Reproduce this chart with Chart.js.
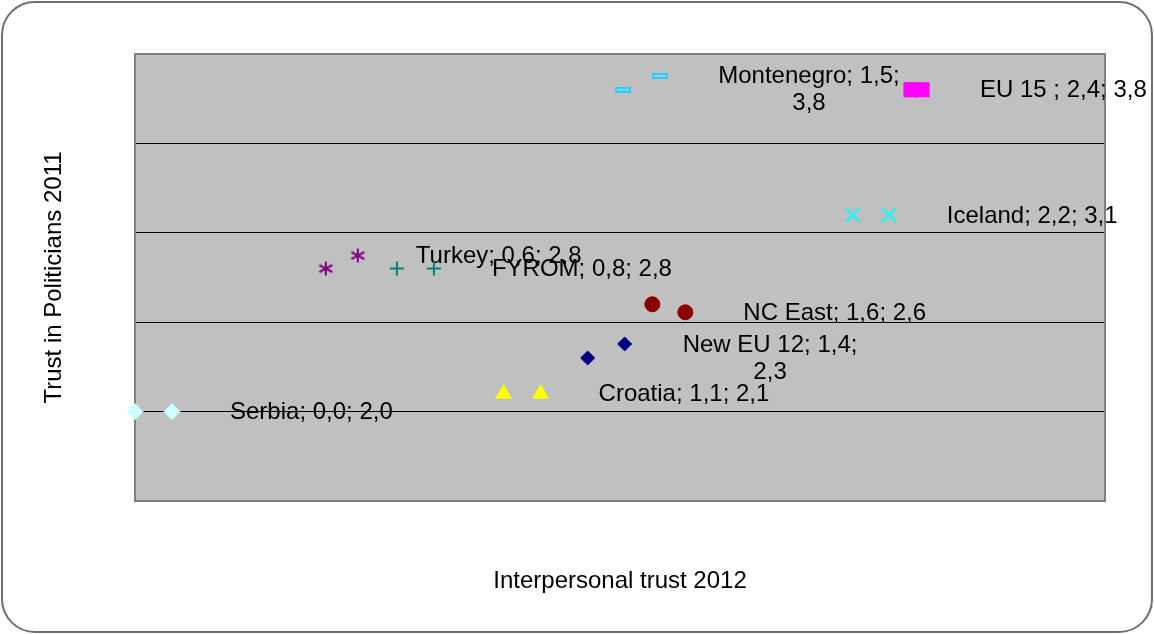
<!DOCTYPE html>
<html>
<head>
<meta charset="utf-8">
<script src="https://cdn.jsdelivr.net/npm/chart.js@4"></script>
<style>
  body { margin: 0; background: #fff; }
  #wrap { position: relative; width: 1154px; height: 634px; }
  #frame {
    position: absolute; left: 1px; top: 1px; width: 1148px; height: 628px;
    border: 2px solid #6e6e6e; border-radius: 34px; pointer-events: none;
  }
  canvas { position: absolute; left: 0; top: 0; }
</style>
</head>
<body>
<div id="wrap">
  <canvas id="myChart" width="1154" height="634"></canvas>
  <div id="frame"></div>
</div>
<script>
const countries = ['Serbia', 'Turkey', 'FYROM', 'Croatia', 'New EU 12', 'Montenegro', 'NC East', 'Iceland', 'EU 15 '];
const interpersonalTrust = [0.00, 0.59, 0.81, 1.14, 1.40, 1.51, 1.60, 2.22, 2.40];
const politiciansTrust = [2.0, 2.8, 2.8, 2.1, 2.3, 3.8, 2.6, 3.1, 3.8];

// small custom markers (excel asterisk and dash)
function makeAsterisk(color) {
    const c = document.createElement('canvas');
    c.width = 16; c.height = 16;
    const g = c.getContext('2d');
    g.strokeStyle = color;
    g.lineWidth = 2;
    g.beginPath();
    g.moveTo(8, 1); g.lineTo(8, 15);
    g.moveTo(1.5, 4.5); g.lineTo(14.5, 11.5);
    g.moveTo(1.5, 11.5); g.lineTo(14.5, 4.5);
    g.stroke();
    return c;
}
function makeDash() {
    const c = document.createElement('canvas');
    c.width = 16; c.height = 6;
    const g = c.getContext('2d');
    g.fillStyle = '#7fd8f2';
    g.fillRect(1, 1, 14, 4);
    g.strokeStyle = '#12c8ff';
    g.lineWidth = 1.5;
    g.strokeRect(1, 1, 14, 4);
    return c;
}

const markers = [
    { pointStyle: 'rectRot', radius: 8, bg: '#ccffff', border: '#ccffff', bw: 1, key: [37, 0] },
    { pointStyle: makeAsterisk('#800080'), radius: 8, bg: '#800080', border: '#800080', bw: 1, key: [32, -13] },
    { pointStyle: 'cross', radius: 7, bg: '#008080', border: '#008080', bw: 2, key: [37, 0] },
    { pointStyle: 'triangle', radius: 9, bg: '#ffff00', border: '#ffff00', bw: 1, key: [37, 0] },
    { pointStyle: 'rectRot', radius: 7, bg: '#000080', border: '#000080', bw: 1, key: [37, -14], wrap: true },
    { pointStyle: makeDash(), radius: 7, bg: '#12c8ff', border: '#12c8ff', bw: 1, key: [37, -14], wrap: true },
    { pointStyle: 'circle', radius: 7.5, bg: '#8a0000', border: '#8a0000', bw: 1, key: [33, 8] },
    { pointStyle: 'crossRot', radius: 10, bg: '#00ffff', border: '#00ffff', bw: 2, key: [36, 0] },
    { pointStyle: 'rect', radius: 10, bg: '#ff00ff', border: '#ff00ff', bw: 1, key: [11, 0] }
];

const fmt = v => v.toFixed(1).replace('.', ',');
const labelFont = '24px "Liberation Sans", Arial, sans-serif';

const plotArea = {
    id: 'plotArea',
    beforeDraw(chart) {
        const { ctx, chartArea: a } = chart;
        ctx.save();
        ctx.fillStyle = '#c0c0c0';
        ctx.fillRect(a.left, a.top, a.right - a.left, a.bottom - a.top);
        ctx.restore();
    },
    beforeDatasetsDraw(chart) {
        const { ctx, chartArea: a } = chart;
        ctx.save();
        ctx.strokeStyle = '#808080';
        ctx.lineWidth = 2;
        ctx.strokeRect(a.left, a.top, a.right - a.left, a.bottom - a.top);
        ctx.restore();
    }
};

// data labels with legend key, like excel
const pointLabels = {
    id: 'pointLabels',
    afterDatasetsDraw(chart) {
        const ctx = chart.ctx;
        ctx.save();
        chart.data.datasets.forEach((ds, i) => {
            const el = chart.getDatasetMeta(i).data[0];
            const o = el.options;
            const kx = el.x + ds.keyOffset[0];
            const ky = el.y + ds.keyOffset[1];
            ctx.fillStyle = o.backgroundColor;
            ctx.strokeStyle = o.borderColor;
            ctx.lineWidth = o.borderWidth;
            Chart.helpers.drawPoint(ctx, {
                pointStyle: o.pointStyle, radius: o.radius, rotation: o.rotation, borderWidth: o.borderWidth
            }, kx, ky);

            const xv = ds.data[0].x, yv = ds.data[0].y;
            const lines = ds.wrapLabel
                ? [ds.label + '; ' + fmt(xv) + ';', fmt(yv)]
                : [ds.label + '; ' + fmt(xv) + '; ' + fmt(yv)];
            ctx.font = labelFont;
            ctx.fillStyle = '#000';
            ctx.textBaseline = 'middle';
            ctx.textAlign = 'center';
            const w0 = ctx.measureText(lines[0]).width;
            const cx = kx + 58 + w0 / 2;
            lines.forEach((t, j) => ctx.fillText(t, cx, ky + 1 + j * 27));
        });
        ctx.restore();
    }
};

const datasets = countries.map((name, i) => ({
    label: name,
    data: [{ x: interpersonalTrust[i], y: politiciansTrust[i] }],
    pointStyle: markers[i].pointStyle,
    pointRadius: markers[i].radius,
    pointHoverRadius: markers[i].radius,
    backgroundColor: markers[i].bg,
    borderColor: markers[i].border,
    pointBorderWidth: markers[i].bw,
    keyOffset: markers[i].key,
    wrapLabel: !!markers[i].wrap,
    clip: false
}));

const titleFont = { family: '"Liberation Sans", Arial, sans-serif', size: 24 };

const config = {
    type: 'scatter',
    data: { datasets: datasets },
    options: {
        responsive: false,
        animation: false,
        events: [],
        layout: { padding: { left: 35.6, right: 49, top: 54, bottom: 34.6 } },
        plugins: {
            legend: { display: false },
            tooltip: { enabled: false }
        },
        scales: {
            x: {
                min: 0,
                max: 3,
                ticks: { display: false },
                grid: { display: false, drawTicks: false },
                border: { display: false },
                title: {
                    display: true,
                    text: 'Interpersonal trust 2012',
                    color: '#000',
                    font: titleFont,
                    padding: { top: 65.6, bottom: 4 }
                }
            },
            y: {
                min: 1.5,
                max: 4,
                ticks: { display: false, stepSize: 0.5 },
                grid: {
                    drawTicks: false,
                    lineWidth: 1,
                    color: c => (c.tick && (c.tick.value === 1.5 || c.tick.value === 4)) ? 'rgba(0,0,0,0)' : '#000'
                },
                border: { display: false },
                title: {
                    display: true,
                    text: 'Trust in Politicians 2011',
                    color: '#000',
                    font: titleFont,
                    padding: { top: 4, bottom: 66.6 }
                }
            }
        }
    },
    plugins: [plotArea, pointLabels]
};

const myChart = new Chart(document.getElementById('myChart').getContext('2d'), config);
</script>
</body>
</html>
